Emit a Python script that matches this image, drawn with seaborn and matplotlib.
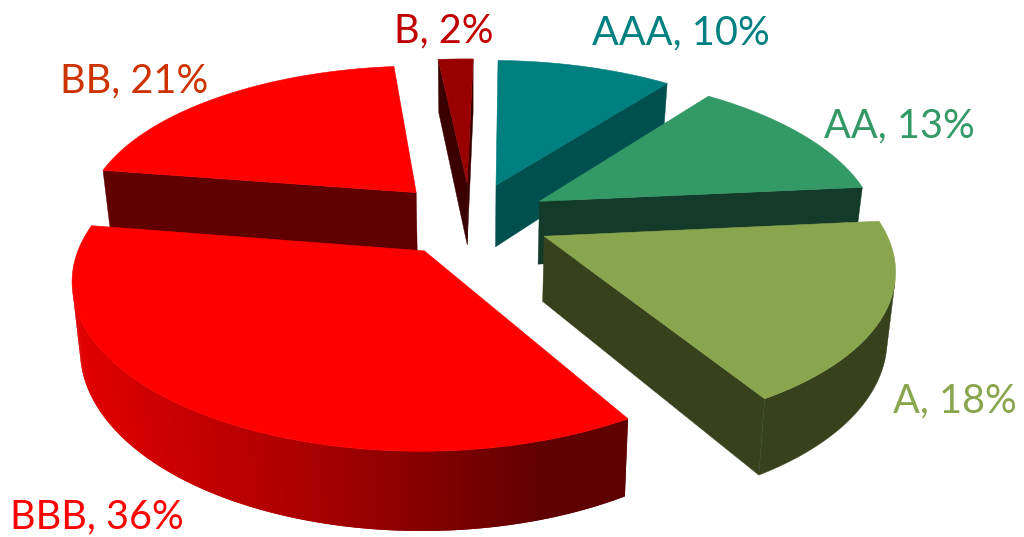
import numpy as np
import pandas as pd
import matplotlib
matplotlib.use("Agg")
import matplotlib.pyplot as plt
from matplotlib.collections import PolyCollection
import seaborn as sns

# Rating shares, clockwise from the first slice
ratings = ["AAA", "AA", "A", "BBB", "BB", "B"]
shares = [10, 13, 18, 36, 21, 2]

top_colors = ["#007F7F", "#339966", "#89A54E", "#FF0000", "#FF0000", "#990000"]
wall_colors = ["#005050", "#143B29", "#37421D", "#600000", "#600000", "#3A0000"]
label_colors = ["#008080", "#339966", "#89A54E", "#FF0000", "#CC3300", "#C00000"]
label_xy = [(681, 33), (899, 126), (955, 401), (97, 517), (134, 81), (444, 31)]

# View of the pie plane
CENTER = (470.5, 219.0)
SCALE_X, SCALE_Y = 336.0, 155.5
SKEW_X, SKEW_Y = 8.0, 2.0
TILT = 0.165
DEPTH = 64.0
BASE_SHRINK = 0.98
EXPLODE = 0.24
FIRST_ANGLE = 2.5
DRAW_ORDER = ["B", "AAA", "BB", "AA", "A", "BBB"]

sns.set_theme(style="white")
plt.rcParams["font.family"] = ["Lato", "DejaVu Sans"]


def project(px, py):
    w = 1 + TILT * py
    sx = CENTER[0] + (SCALE_X * px - SKEW_X * py) / w
    sy = CENTER[1] - (SCALE_Y * py + SKEW_Y * px) / w
    return np.column_stack([sx, sy]), w


def lower(top, w):
    low = top.copy()
    low[:, 0] = CENTER[0] + (top[:, 0] - CENTER[0]) * BASE_SHRINK
    low[:, 1] = top[:, 1] + DEPTH / w
    return low


def signed_area(quad):
    x, y = quad[:, 0], quad[:, 1]
    return 0.5 * np.sum(x * np.roll(y, -1) - np.roll(x, -1) * y)


df = pd.DataFrame({"rating": ratings, "share": shares, "top": top_colors,
                   "wall": wall_colors, "label": label_colors})
df["stop"] = FIRST_ANGLE + df["share"].cumsum() * 3.6
df["start"] = df["stop"] - df["share"] * 3.6

fig = plt.figure(figsize=(10.24, 5.37), dpi=100)
ax = fig.add_axes([0, 0, 1, 1])
ax.set_xlim(0, 1024)
ax.set_ylim(537, 0)
ax.axis("off")

rim_shades = sns.blend_palette(["#E00000", "#A80000", "#600000"], 256)

for name in DRAW_ORDER:
    row = df[df["rating"] == name].iloc[0]
    mid = np.radians((row["start"] + row["stop"]) / 2)
    ox, oy = EXPLODE * np.sin(mid), EXPLODE * np.cos(mid)
    theta = np.radians(np.linspace(row["start"], row["stop"], int(row["share"] * 6) + 2))
    px = np.r_[ox, ox + np.sin(theta)]
    py = np.r_[oy, oy + np.cos(theta)]
    top, w = project(px, py)
    low = lower(top, w)
    n = len(top)

    # Straight walls running between the apex and the rim
    for i in (0, n - 1):
        j = (i + 1) % n
        quad = np.array([top[i], top[j], low[j], low[i]])
        if signed_area(quad) < 0:
            ax.fill(quad[:, 0], quad[:, 1], color=row["wall"], lw=0.3)

    # Curved outer wall: only the runs of segments that face the viewer
    seen = [i for i in range(1, n - 1)
            if signed_area(np.array([top[i], top[i + 1], low[i + 1], low[i]])) < 0]
    runs = np.split(np.array(seen, dtype=int), np.where(np.diff(seen) > 1)[0] + 1) if seen else []
    for run in runs:
        idx = np.r_[run, run[-1] + 1]
        if name == "BBB":
            # Left-to-right shading; each facet overlaps the next so no seams show
            order = idx[np.argsort(top[idx, 0])]
            quads, faces = [], []
            for a, b in zip(order[:-1], order[np.minimum(np.arange(2, len(order) + 1), len(order) - 1)]):
                quads.append(np.array([top[a], top[b], low[b], low[a]]))
                frac = np.clip((top[a, 0] - 80) / 460, 0, 1)
                faces.append(rim_shades[int(frac * 255)])
            ax.add_collection(PolyCollection(quads, facecolors=faces, edgecolors="none"))
        else:
            outline = np.vstack([top[idx], low[idx][::-1]])
            ax.fill(outline[:, 0], outline[:, 1], color=row["wall"], lw=0.3)

    ax.fill(top[:, 0], top[:, 1], color=row["top"], lw=0.4)

for (x, y), text, value, color in zip(label_xy, ratings, shares, label_colors):
    ax.text(x, y, f"{text}, {value}%", color=color, fontsize=28.5, ha="center", va="center")

fig.savefig("out.png", dpi=100, facecolor="white")
